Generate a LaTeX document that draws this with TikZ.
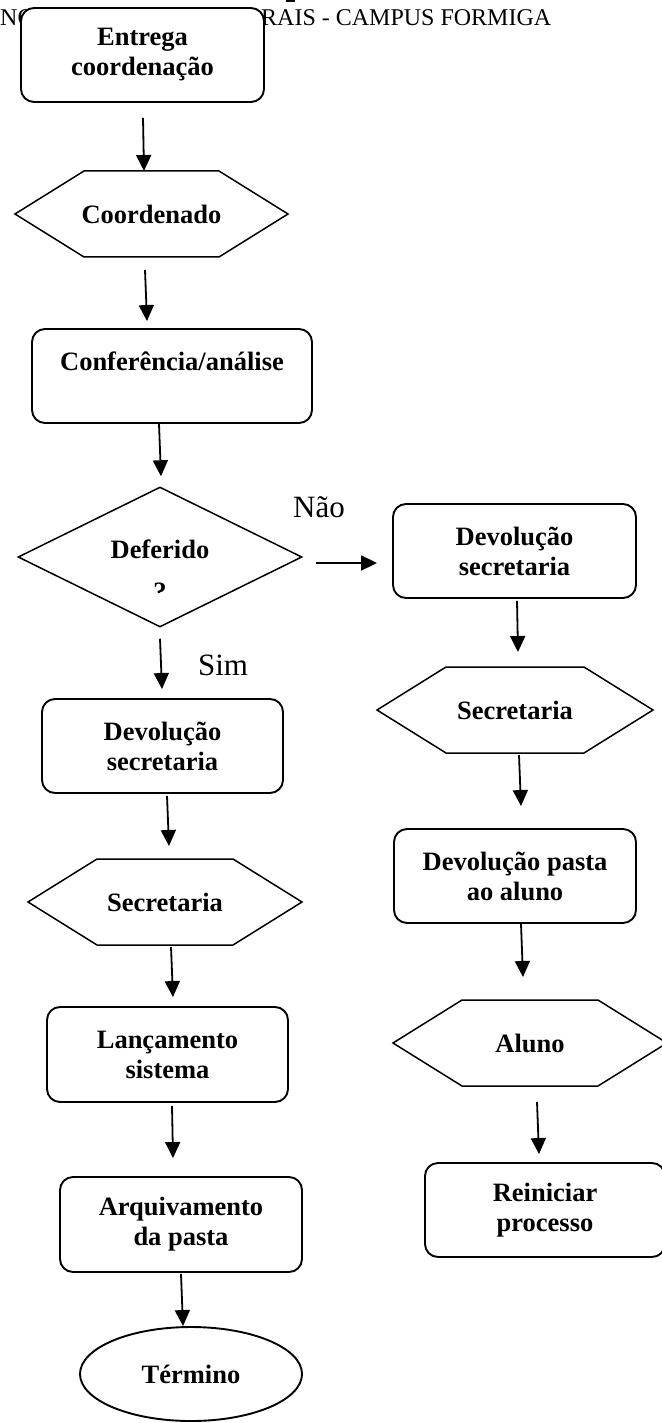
\documentclass[tikz,border=0pt]{standalone}
\usepackage{fontspec}
\setmainfont{Liberation Serif}
\usetikzlibrary{shapes.geometric,arrows.meta}

\begin{document}
\begin{tikzpicture}[x=1pt,y=-1pt,
  box/.style={draw,rounded corners=13pt,line width=1.9pt,fill=white,align=center,inner sep=0pt,
    font=\bfseries\fontsize{26.5pt}{30pt}\selectfont},
  hexa/.style={inner sep=0pt,outer sep=0pt,minimum height=86pt,
    font=\bfseries\fontsize{26.5pt}{30pt}\selectfont},
  hexline/.style={line width=1.5pt},
  dmd/.style={diamond,draw,line width=1.5pt,inner sep=0pt,minimum width=284pt,minimum height=140pt},
  txt/.style={inner sep=0pt,font=\bfseries\fontsize{26.5pt}{30pt}\selectfont},
  lbl/.style={inner sep=0pt,anchor=base,font=\fontsize{31pt}{36pt}\selectfont},
  head/.style={inner sep=0pt,font=\fontsize{24pt}{28pt}\selectfont},
  arr/.style={line width=1.8pt,-{Triangle[length=16pt,width=15pt]}}]
\useasboundingbox (0,0) rectangle (661,1423);
% page header, partly under the first box
\node[head,anchor=base west] (hd1) at (0,26) {NO};
\node[head,anchor=base west] (hd2) at (261,26) {RAIS - CAMPUS FORMIGA};
\fill (286,0) rectangle (295,2.5);
% left column
\node[box,minimum width=243pt,minimum height=94pt] (b1) at (142.5,55) {Entrega\\coordenação};
\node[hexa,minimum width=273pt] (hx1) at (151.5,214) {Coordenado};
\node[box,minimum width=280pt,minimum height=94pt] (b2) at (172,376) {Conferência/análise\\\mbox{}};
\node[dmd] (d1) at (160,557) {};
\node[txt,anchor=base] (d1a) at (160,558) {Deferido};
\begin{scope}
\clip (100,570) rectangle (220,592);
\node[txt,anchor=base] (d1b) at (160,600) {?};
\end{scope}
\node[box,minimum width=241pt,minimum height=94pt] (b3) at (162.5,746) {Devolução\\secretaria};
\node[hexa,minimum width=274pt] (hx2) at (165,902) {Secretaria};
\node[box,minimum width=241pt,minimum height=95pt] (b4) at (167.5,1054.5) {Lançamento\\sistema};
\node[box,minimum width=242pt,minimum height=95pt] (b5) at (181,1224.5) {Arquivamento\\da pasta};
\node[box,ellipse,rounded corners=0pt,minimum width=222pt,minimum height=94pt] (e1) at (191,1374) {Término};
% right column
\node[box,minimum width=243pt,minimum height=94pt] (b6) at (514.5,551) {Devolução\\secretaria};
\node[hexa,minimum width=276pt] (hx3) at (515,710) {Secretaria};
\node[box,minimum width=242pt,minimum height=94pt] (b7) at (515,876) {Devolução pasta\\ao aluno};
\node[hexa,minimum width=274pt] (hx4) at (530,1043) {Aluno};
\node[box,minimum width=240pt,minimum height=94pt] (b8) at (545,1210) {Reiniciar\\processo};
\foreach \h in {hx1,hx2,hx3,hx4}
  \draw[hexline] (\h.west) -- ([xshift=69pt]\h.north west) -- ([xshift=-69pt]\h.north east)
    -- (\h.east) -- ([xshift=-69pt]\h.south east) -- ([xshift=69pt]\h.south west) -- cycle;
% labels
\node[lbl] (nao) at (319,517) {Não};
\node[lbl] (sim) at (223,675) {Sim};
% arrows
\draw[arr] ([xshift=.5pt,yshift=-15pt]b1.south) -- ([xshift=-7.5pt]hx1.north);
\draw[arr] ([xshift=-6.5pt,yshift=-13pt]hx1.south) -- ([xshift=-25pt,yshift=7pt]b2.north);
\draw[arr] ([xshift=-13pt]b2.south) -- ([xshift=1pt,yshift=10pt]d1.north);
\draw[arr] ([yshift=-11pt]d1.south) -- ([xshift=-.5pt,yshift=9pt]b3.north);
\draw[arr] ([xshift=4.5pt,yshift=-2pt]b3.south) -- ([xshift=4pt,yshift=13pt]hx2.north);
\draw[arr] ([xshift=6pt,yshift=-2pt]hx2.south) -- ([xshift=5.5pt,yshift=9pt]b4.north);
\draw[arr] ([xshift=4.5pt,yshift=-3pt]b4.south) -- ([xshift=-8pt,yshift=18pt]b5.north);
\draw[arr] ([yshift=-1pt]b5.south) -- ([xshift=-8pt]e1.north);
\draw[arr] ([xshift=13pt,yshift=-6pt]d1.east) -- ([xshift=-15pt,yshift=-12pt]b6.west);
\draw[arr] ([xshift=2.5pt,yshift=-2pt]b6.south) -- ([xshift=3pt,yshift=15pt]hx3.north);
\draw[arr] ([xshift=4pt,yshift=-2pt]hx3.south) -- ([xshift=6pt,yshift=22pt]b7.north);
\draw[arr] ([xshift=6pt]b7.south) -- ([xshift=-7pt,yshift=23pt]hx4.north);
\draw[arr] ([xshift=7pt,yshift=-16pt]hx4.south) -- ([xshift=-6pt,yshift=8pt]b8.north);
\end{tikzpicture}
\end{document}
